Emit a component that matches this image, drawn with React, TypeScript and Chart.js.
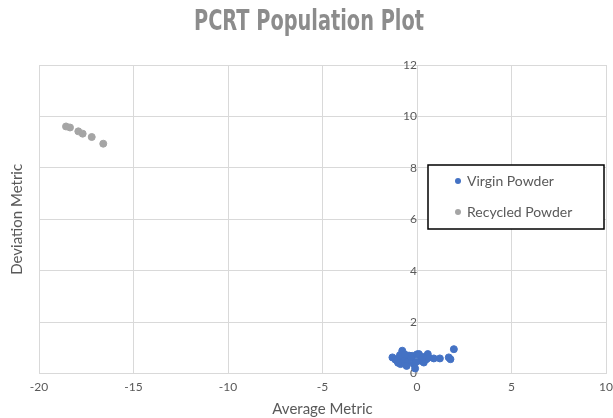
import React, { useEffect, useRef } from "react";
import { Chart, registerables } from "chart.js";

Chart.register(...registerables);

const virginX = [-1.3, -1.15, -1.05, -0.95, -0.87, -0.78, -0.7, -0.61, -0.5, -0.42, -0.3, -0.25, -0.17, -0.1, 0.0, 0.1, 0.19, 0.25, 0.36, 0.42, 0.5, 0.57, 0.62, 0.89, 1.21, 1.68, 1.77, 1.95, -0.9, -0.55, -0.05, 0.3, -1.0, -0.65];
const virginY = [0.63, 0.55, 0.5, 0.6, 0.37, 0.89, 0.5, 0.56, 0.45, 0.7, 0.62, 0.69, 0.37, 0.2, 0.75, 0.76, 0.5, 0.6, 0.43, 0.55, 0.56, 0.76, 0.62, 0.59, 0.59, 0.63, 0.56, 0.95, 0.72, 0.3, 0.45, 0.65, 0.42, 0.75];
const recycledX = [-18.57, -18.36, -17.92, -17.69, -17.21, -16.6];
const recycledY = [9.61, 9.57, 9.42, 9.33, 9.2, 8.94];
const seriesNames = ["Virgin Powder", "Recycled Powder"];
const seriesColors = ["#4472C4", "#A5A5A5"];
const xTitle = "Average Metric";
const yTitle = "Deviation Metric";
const chartTitle = "PCRT Population Plot";

const toPoints = (xs: number[], ys: number[]) => xs.map((x, i) => ({ x, y: ys[i] }));

const extrasPlugin = {
  id: "extras",
  afterDraw(chart: any) {
    const ctx = chart.ctx;
    const area = chart.chartArea;

    // title (condensed)
    ctx.save();
    ctx.font = "bold 28px 'DejaVu Sans Condensed'";
    const w = ctx.measureText(chartTitle).width;
    const target = 230;
    ctx.translate(309, 23);
    ctx.scale(target / w, 1);
    ctx.fillStyle = "#8c8c8c";
    ctx.textAlign = "center";
    ctx.textBaseline = "middle";
    ctx.fillText(chartTitle, 0, 0);
    ctx.restore();

    // y axis title at far left
    ctx.save();
    ctx.translate(17, (area.top + area.bottom) / 2);
    ctx.rotate(-Math.PI / 2);
    ctx.font = "15px Lato";
    ctx.fillStyle = "#595959";
    ctx.textAlign = "center";
    ctx.textBaseline = "middle";
    ctx.fillText(yTitle, 0, 0);
    ctx.restore();

    // legend box
    ctx.save();
    ctx.fillStyle = "#ffffff";
    ctx.fillRect(428, 165, 176, 64);
    ctx.strokeStyle = "#000000";
    ctx.lineWidth = 1.5;
    ctx.strokeRect(428, 165, 176, 64);
    ctx.font = "14px Lato";
    ctx.textBaseline = "middle";
    ctx.textAlign = "left";
    seriesNames.forEach((name, i) => {
      const y = 181 + i * 31;
      ctx.fillStyle = seriesColors[i];
      ctx.beginPath();
      ctx.arc(458, y, 3, 0, Math.PI * 2);
      ctx.fill();
      ctx.fillStyle = "#595959";
      ctx.fillText(name, 467, y);
    });
    ctx.restore();
  },
};

export default function App() {
  const ref = useRef<HTMLCanvasElement>(null);
  useEffect(() => {
    document.body.style.margin = "0";
    const chart = new Chart(ref.current!, {
      type: "scatter",
      data: {
        datasets: [
          {
            label: seriesNames[0],
            data: toPoints(virginX, virginY),
            backgroundColor: seriesColors[0],
            borderColor: seriesColors[0],
            pointRadius: 3.5,
          },
          {
            label: seriesNames[1],
            data: toPoints(recycledX, recycledY),
            backgroundColor: seriesColors[1],
            borderColor: seriesColors[1],
            pointRadius: 3.5,
          },
        ],
      },
      options: {
        animation: false,
        responsive: false,
        layout: { padding: { left: 39, right: 7, top: 65, bottom: 0 } },
        plugins: {
          legend: { display: false },
          tooltip: { enabled: false },
          title: { display: false },
        },
        scales: {
          x: {
            type: "linear",
            min: -20,
            max: 10,
            afterFit: (scale: any) => {
              scale.paddingRight = 0;
              scale.paddingLeft = 0;
            },
            ticks: { stepSize: 5, color: "#595959", font: { family: "Lato", size: 12 }, padding: 6 },
            grid: { color: "#d9d9d9", drawTicks: false },
            border: { display: false },
            title: { display: true, text: xTitle, color: "#595959", font: { family: "Lato", size: 15 }, padding: { top: 0, bottom: 0 } },
          },
          y: {
            type: "linear",
            min: 0,
            max: 12,
            position: { x: 0 } as any,
            ticks: { stepSize: 2, color: "#595959", font: { family: "Lato", size: 12 }, padding: 10 },
            grid: { color: "#d9d9d9", drawTicks: false },
            border: { display: true, color: "#d9d9d9" },
          },
        },
      },
      plugins: [extrasPlugin],
    });
    return () => chart.destroy();
  }, []);
  return <canvas ref={ref} width={613} height={418} style={{ display: "block" }} />;
}
